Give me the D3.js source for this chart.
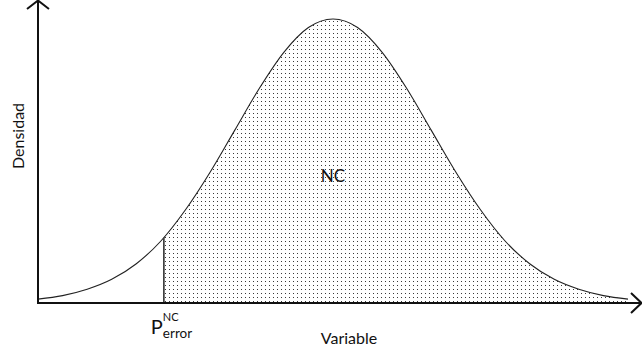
<!DOCTYPE html>
<html>
<head>
<meta charset="utf-8">
<script src="https://cdn.jsdelivr.net/npm/d3@7/dist/d3.min.js"></script>
<style>
  html, body { margin: 0; padding: 0; background: #fff; }
  svg { display: block; }
  text { font-family: Lato, "Open Sans", sans-serif; fill: #111; }
</style>
</head>
<body>
<svg id="chart" width="642" height="356"></svg>
<script>
// Density curve sampled along the variable axis
const variable = [2, 2.25, 2.5, 2.75, 3, 3.25, 3.5, 3.75, 4, 4.25, 4.5, 4.75, 5,
                  5.25, 5.5, 5.75, 6, 6.25, 6.5, 6.75, 7, 7.25, 7.5, 7.75, 8];
const density = [0.004, 0.009, 0.018, 0.032, 0.054, 0.086, 0.130, 0.183, 0.242, 0.301, 0.352, 0.387, 0.399,
                 0.387, 0.352, 0.301, 0.242, 0.183, 0.130, 0.086, 0.054, 0.032, 0.018, 0.009, 0.004];
// Threshold separating the error tail from the confidence region
const cutoff = 3.28;
const labels = { y: "Densidad", x: "Variable", region: "NC", threshold: ["P", "error", "NC"] };

const svg = d3.select("#chart");
const x = d3.scaleLinear().domain([2, 8]).range([38, 628]);
const y = d3.scaleLinear().domain([0, 0.399]).range([302, 19]);

const points = variable.map((v, i) => ({ v, d: density[i] }));

const defs = svg.append("defs");
const pat = defs.append("pattern")
  .attr("id", "dots").attr("patternUnits", "userSpaceOnUse")
  .attr("width", 4).attr("height", 4);
pat.append("rect").attr("x", 1).attr("y", 1).attr("width", 1).attr("height", 1).attr("fill", "#3a3a3a");

const area = d3.area().x(p => x(p.v)).y0(y(0)).y1(p => y(p.d)).curve(d3.curveMonotoneX);
const line = d3.line().x(p => x(p.v)).y(p => y(p.d)).curve(d3.curveMonotoneX);

// clip regions: right of the threshold, and under the curve
defs.append("clipPath").attr("id", "rightOfCut")
  .append("rect").attr("x", x(cutoff)).attr("y", 0).attr("width", 642).attr("height", 356);
defs.append("clipPath").attr("id", "underCurve")
  .append("path").attr("d", area(points));

svg.append("path").attr("d", area(points))
  .attr("fill", "url(#dots)").attr("clip-path", "url(#rightOfCut)");

svg.append("path").attr("d", line(points))
  .attr("fill", "none").attr("stroke", "#222").attr("stroke-width", 1.1);

// threshold line, cut to the curve height
svg.append("line")
  .attr("x1", x(cutoff)).attr("x2", x(cutoff))
  .attr("y1", y(0) + 2).attr("y2", 0)
  .attr("stroke", "#333").attr("stroke-width", 1.6)
  .attr("clip-path", "url(#underCurve)");

// axes with open arrowheads
const axisG = svg.append("g").attr("stroke", "#111").attr("fill", "none").attr("stroke-width", 2);
axisG.append("line").attr("x1", 38).attr("y1", 303).attr("x2", 38).attr("y2", 1);
axisG.append("polyline").attr("points", "27,9 38,0.5 49,9");
axisG.append("line").attr("x1", 37).attr("y1", 303).attr("x2", 641).attr("y2", 303);
axisG.append("polyline").attr("points", "631,293 641.5,303 631,313");

svg.append("text").attr("transform", "translate(24,136) rotate(-90)")
  .attr("text-anchor", "middle").attr("font-size", 16).text(labels.y);
svg.append("text").attr("x", 349).attr("y", 344)
  .attr("text-anchor", "middle").attr("font-size", 16).text(labels.x);
svg.append("text").attr("x", 333).attr("y", 182)
  .attr("text-anchor", "middle").attr("font-size", 17).text(labels.region);

svg.append("text").attr("x", x(cutoff) - 13).attr("y", 334).attr("font-size", 20).text(labels.threshold[0]);
svg.append("text").attr("x", x(cutoff) - 1).attr("y", 338).attr("font-size", 13.5).text(labels.threshold[1]);
svg.append("text").attr("x", x(cutoff) - 1).attr("y", 321).attr("font-size", 11).text(labels.threshold[2]);
</script>
</body>
</html>
